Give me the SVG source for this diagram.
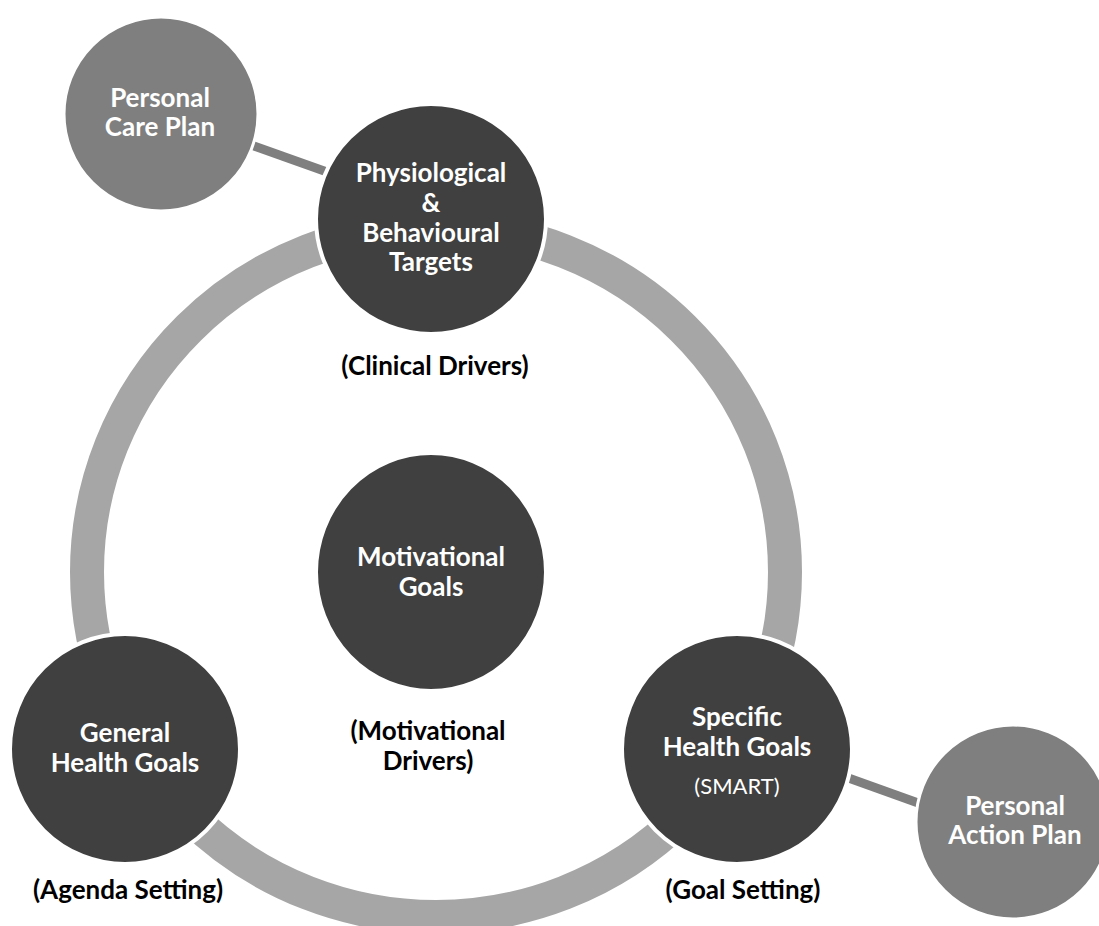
<svg xmlns="http://www.w3.org/2000/svg" width="1099" height="926" viewBox="0 0 1099 926">
<style>
.dark{fill:#404040;stroke:#ffffff;stroke-width:4}
.mid{fill:#7f7f7f;stroke:#ffffff;stroke-width:3}
.wt{fill:#ffffff;font-family:Lato,"Open Sans",sans-serif;font-weight:bold;font-size:26px;text-anchor:middle}
.bt{fill:#000000;font-family:Lato,"Open Sans",sans-serif;font-weight:bold;font-size:26px;text-anchor:middle}
.sm{fill:#ffffff;font-family:Lato,"Open Sans",sans-serif;font-size:22px;text-anchor:middle}
.conn{stroke:#7f7f7f;stroke-width:9;fill:none}
</style>
<rect width="1099" height="926" fill="#ffffff"/>
<g id="ring">
<ellipse cx="436" cy="572" rx="349" ry="345" fill="none" stroke="#a6a6a6" stroke-width="34"/>
</g>
<g id="connectors">
<line class="conn" x1="161" y1="113" x2="431" y2="209"/>
<line class="conn" x1="737" y1="738" x2="1013" y2="837"/>
</g>
<g id="personal-care-plan">
<circle class="mid" cx="161" cy="114" r="97"/>
<text class="wt" x="160" y="107">Personal</text>
<text class="wt" x="160" y="136">Care Plan</text>
</g>
<g id="physiological-targets">
<circle class="dark" cx="431" cy="219" r="115"/>
<text class="wt" x="431" y="182">Physiological</text>
<text class="wt" x="431" y="212">&amp;</text>
<text class="wt" x="431" y="242">Behavioural</text>
<text class="wt" x="431" y="271">Targets</text>
</g>
<g id="clinical-drivers-label">
<text class="bt" x="435" y="375">(Clinical Drivers)</text>
</g>
<g id="motivational-goals">
<ellipse class="dark" cx="431" cy="572" rx="115" ry="119"/>
<text class="wt" x="431" y="566">Motivational</text>
<text class="wt" x="431" y="596">Goals</text>
</g>
<g id="motivational-drivers-label">
<text class="bt" x="428" y="740">(Motivational</text>
<text class="bt" x="428" y="770">Drivers)</text>
</g>
<g id="general-health-goals">
<circle class="dark" cx="125" cy="749" r="115"/>
<text class="wt" x="125" y="742">General</text>
<text class="wt" x="125" y="772">Health Goals</text>
</g>
<g id="agenda-setting-label">
<text class="bt" x="128" y="899">(Agenda Setting)</text>
</g>
<g id="specific-health-goals">
<circle class="dark" cx="737" cy="749" r="115"/>
<text class="wt" x="737" y="726">Specific</text>
<text class="wt" x="737" y="756">Health Goals</text>
<text class="sm" x="737" y="794">(SMART)</text>
</g>
<g id="goal-setting-label">
<text class="bt" x="743" y="899">(Goal Setting)</text>
</g>
<g id="personal-action-plan">
<circle class="mid" cx="1013" cy="822" r="97"/>
<text class="wt" x="1015" y="815">Personal</text>
<text class="wt" x="1015" y="844">Action Plan</text>
</g>
</svg>
